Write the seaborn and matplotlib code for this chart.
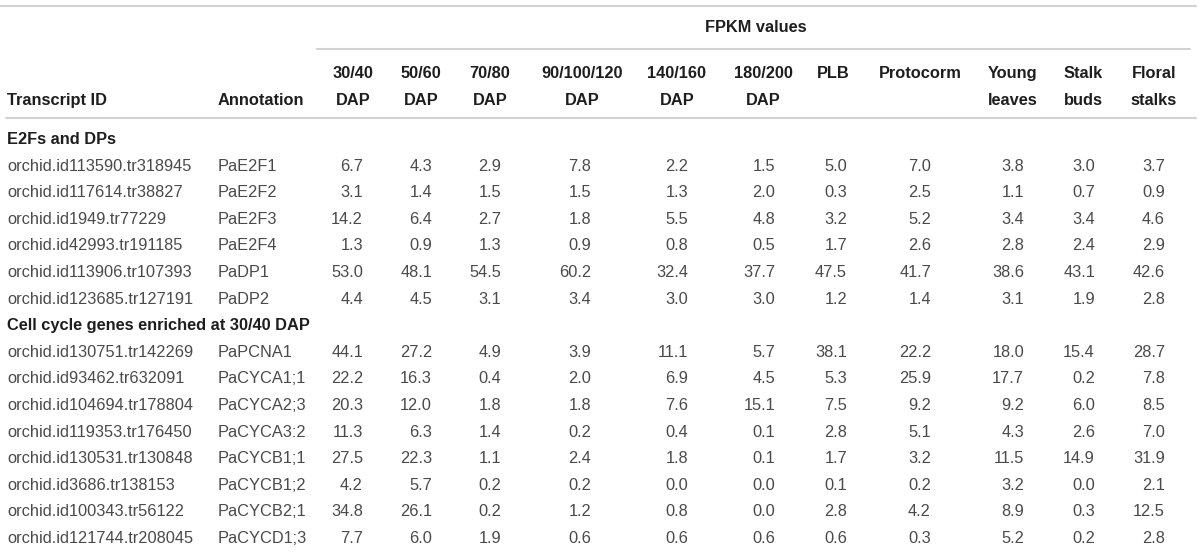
import matplotlib
matplotlib.use("Agg")
import matplotlib.pyplot as plt
import seaborn as sns
import pandas as pd

# table content
transcript_ids = [
    "orchid.id113590.tr318945", "orchid.id117614.tr38827", "orchid.id1949.tr77229",
    "orchid.id42993.tr191185", "orchid.id113906.tr107393", "orchid.id123685.tr127191",
    "orchid.id130751.tr142269", "orchid.id93462.tr632091", "orchid.id104694.tr178804",
    "orchid.id119353.tr176450", "orchid.id130531.tr130848", "orchid.id3686.tr138153",
    "orchid.id100343.tr56122", "orchid.id121744.tr208045",
]
annotations = [
    "PaE2F1", "PaE2F2", "PaE2F3", "PaE2F4", "PaDP1", "PaDP2",
    "PaPCNA1", "PaCYCA1;1", "PaCYCA2;3", "PaCYCA3:2", "PaCYCB1;1", "PaCYCB1;2",
    "PaCYCB2;1", "PaCYCD1;3",
]
sections = ["E2Fs and DPs", "Cell cycle genes enriched at 30/40 DAP"]
section_sizes = [6, 8]

col_headers = ["30/40\nDAP", "50/60\nDAP", "70/80\nDAP", "90/100/120\nDAP", "140/160\nDAP",
               "180/200\nDAP", "PLB", "Protocorm", "Young\nleaves", "Stalk\nbuds", "Floral\nstalks"]

dap_30_40 = [6.7, 3.1, 14.2, 1.3, 53.0, 4.4, 44.1, 22.2, 20.3, 11.3, 27.5, 4.2, 34.8, 7.7]
dap_50_60 = [4.3, 1.4, 6.4, 0.9, 48.1, 4.5, 27.2, 16.3, 12.0, 6.3, 22.3, 5.7, 26.1, 6.0]
dap_70_80 = [2.9, 1.5, 2.7, 1.3, 54.5, 3.1, 4.9, 0.4, 1.8, 1.4, 1.1, 0.2, 0.2, 1.9]
dap_90_120 = [7.8, 1.5, 1.8, 0.9, 60.2, 3.4, 3.9, 2.0, 1.8, 0.2, 2.4, 0.2, 1.2, 0.6]
dap_140_160 = [2.2, 1.3, 5.5, 0.8, 32.4, 3.0, 11.1, 6.9, 7.6, 0.4, 1.8, 0.0, 0.8, 0.6]
dap_180_200 = [1.5, 2.0, 4.8, 0.5, 37.7, 3.0, 5.7, 4.5, 15.1, 0.1, 0.1, 0.0, 0.0, 0.6]
plb = [5.0, 0.3, 3.2, 1.7, 47.5, 1.2, 38.1, 5.3, 7.5, 2.8, 1.7, 0.1, 2.8, 0.6]
protocorm = [7.0, 2.5, 5.2, 2.6, 41.7, 1.4, 22.2, 25.9, 9.2, 5.1, 3.2, 0.2, 4.2, 0.3]
young_leaves = [3.8, 1.1, 3.4, 2.8, 38.6, 3.1, 18.0, 17.7, 9.2, 4.3, 11.5, 3.2, 8.9, 5.2]
stalk_buds = [3.0, 0.7, 3.4, 2.4, 43.1, 1.9, 15.4, 0.2, 6.0, 2.6, 14.9, 0.0, 0.3, 0.2]
floral_stalks = [3.7, 0.9, 4.6, 2.9, 42.6, 2.8, 28.7, 7.8, 8.5, 7.0, 31.9, 2.1, 12.5, 2.8]

df = pd.DataFrame({
    col_headers[0]: dap_30_40, col_headers[1]: dap_50_60, col_headers[2]: dap_70_80,
    col_headers[3]: dap_90_120, col_headers[4]: dap_140_160, col_headers[5]: dap_180_200,
    col_headers[6]: plb, col_headers[7]: protocorm, col_headers[8]: young_leaves,
    col_headers[9]: stalk_buds, col_headers[10]: floral_stalks,
})

# layout (pixels)
W, H = 1200, 553
head_x = [353, 421, 490, 582, 677, 763, 833, 920, 1013, 1083, 1154]
val_x = [363, 432, 501, 591, 688, 775, 847, 931, 1024, 1095, 1165]
id_x, ann_x = 7, 218
row0, step = 138, 26.6
base = 6  # baseline offset from visual centre

sns.set_theme(style="white")
plt.rcParams["font.family"] = ["Liberation Sans", "DejaVu Sans"]

fig = plt.figure(figsize=(12, 5.53), dpi=100)
ax = fig.add_axes([0, 0, 1, 1])
ax.set_xlim(0, W)
ax.set_ylim(H, 0)
ax.axis("off")

fs = 11.8
hdr = "#1e1e1e"
txt = "#4a4a4a"
line_c = "#d2d2d2"

# rules
ax.plot([0, 1196], [6, 6], color=line_c, lw=1.5)
ax.plot([317, 1190], [49, 49], color=line_c, lw=1.5)
ax.plot([6, 1196], [118, 118], color=line_c, lw=1.5)

ax.text(756, 26 + base, "FPKM values", ha="center", va="baseline",
        fontsize=fs, fontweight="bold", color=hdr)
ax.text(id_x, 99 + base, "Transcript ID", ha="left", va="baseline",
        fontsize=fs, fontweight="bold", color=hdr)
ax.text(ann_x, 99 + base, "Annotation", ha="left", va="baseline",
        fontsize=fs, fontweight="bold", color=hdr)
for x, h in zip(head_x, df.columns):
    for k, part in enumerate(h.split("\n")):
        ax.text(x, 72 + 27 * k + base, part, ha="center", va="baseline",
                fontsize=fs, fontweight="bold", color=hdr)

row = 0
gene = 0
for name, n in zip(sections, section_sizes):
    ax.text(id_x, row0 + step * row + base, name, ha="left", va="baseline",
            fontsize=fs, fontweight="bold", color=hdr)
    row += 1
    for _ in range(n):
        y = row0 + step * row + base
        ax.text(id_x, y, transcript_ids[gene], ha="left", va="baseline", fontsize=fs, color=txt)
        ax.text(ann_x, y, annotations[gene], ha="left", va="baseline", fontsize=fs, color=txt)
        for x, c in zip(val_x, df.columns):
            ax.text(x, y, f"{df[c].iloc[gene]:.1f}", ha="right", va="baseline",
                    fontsize=fs, color=txt)
        row += 1
        gene += 1

fig.savefig("out.png", dpi=100, facecolor="white")
